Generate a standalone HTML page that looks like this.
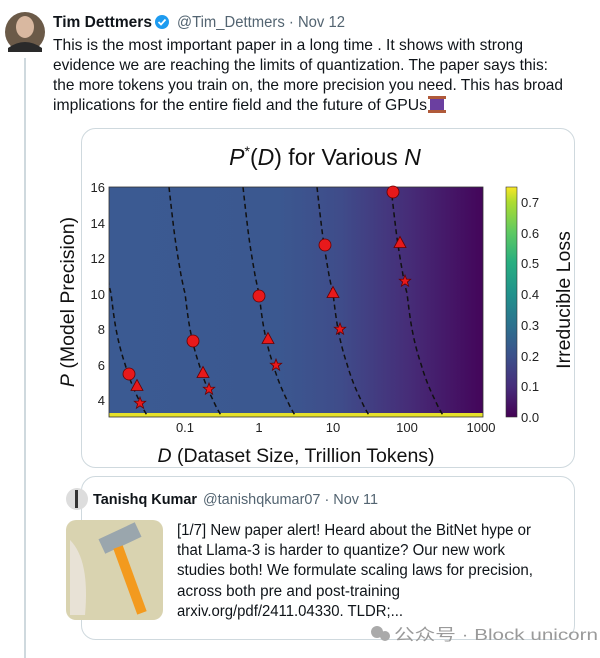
<!DOCTYPE html>
<html><head><meta charset="utf-8"><style>
html,body{margin:0;padding:0;background:#fff;width:600px;height:658px;overflow:hidden}
svg{display:block}
text{font-family:"Liberation Sans","DejaVu Sans",sans-serif}
</style></head><body>
<svg width="600" height="658" viewBox="0 0 600 658" xmlns="http://www.w3.org/2000/svg">
<defs>
<linearGradient id="bg" x1="109" y1="0" x2="483" y2="0" gradientUnits="userSpaceOnUse">
<stop offset="0" stop-color="#3b5a92"/>
<stop offset="0.45" stop-color="#3b5890"/>
<stop offset="0.62" stop-color="#3f4c8a"/>
<stop offset="0.8" stop-color="#462d78"/>
<stop offset="1" stop-color="#44055a"/>
</linearGradient>
<linearGradient id="cb" x1="0" y1="417" x2="0" y2="186" gradientUnits="userSpaceOnUse">
<stop offset="0" stop-color="#440154"/>
<stop offset="0.13" stop-color="#472d7b"/>
<stop offset="0.27" stop-color="#3b528b"/>
<stop offset="0.4" stop-color="#2c728e"/>
<stop offset="0.53" stop-color="#21918c"/>
<stop offset="0.67" stop-color="#28ae80"/>
<stop offset="0.8" stop-color="#5ec962"/>
<stop offset="0.93" stop-color="#addc30"/>
<stop offset="1" stop-color="#fde725"/>
</linearGradient>
<clipPath id="pc"><rect x="109" y="187" width="374" height="230"/></clipPath>
<path id="cv" d="M243,187 C245,205 246,214 247,222 C249,240 252,258 255,275 C257,285 258,290 259,293 C261,310 262,318 264,329 C267,345 270,355 273,364 C277,378 282,390 287,400 C290,407 293,412 296,417" fill="none" stroke="#111" stroke-width="1.5" stroke-dasharray="5,3.5"/>
<g id="star"><polygon points="0,-6 1.5,-1.9 5.7,-1.8 2.4,1 3.6,5.2 0,2.8 -3.6,5.2 -2.4,1 -5.7,-1.8 -1.5,-1.9" fill="#e8191b" stroke="#600" stroke-width="0.8"/></g>
<g id="tri"><polygon points="0,-6.5 6,4.5 -6,4.5" fill="#e8191b" stroke="#600" stroke-width="0.8"/></g>
<g id="cir"><circle r="6" fill="#e8191b" stroke="#600" stroke-width="0.8"/></g>
</defs>

<circle cx="25" cy="32" r="20" fill="#6b5a48"/>
<ellipse cx="25" cy="27" rx="9" ry="11" fill="#d9b8a0"/>
<path d="M8,48 Q25,36 42,48 L42,52 L8,52Z" fill="#2a2a2a"/>
<rect x="24" y="58" width="2" height="600" fill="#cfd9de"/>
<text x="53" y="27" font-size="15.5" font-weight="bold" fill="#0f1419" textLength="99" lengthAdjust="spacingAndGlyphs">Tim Dettmers</text>
<circle cx="162" cy="22" r="7" fill="#1d9bf0"/>
<path d="M158.5,22 l2.5,2.5 l4.5,-5" stroke="#fff" stroke-width="1.8" fill="none"/>
<text x="177" y="27" font-size="15.5" fill="#536471" textLength="168" lengthAdjust="spacingAndGlyphs">@Tim_Dettmers · Nov 12</text>
<g font-size="16" fill="#0f1419">
<text x="53" y="50" textLength="470" lengthAdjust="spacingAndGlyphs">This is the most important paper in a long time . It shows with strong</text>
<text x="53" y="70" textLength="495" lengthAdjust="spacingAndGlyphs">evidence we are reaching the limits of quantization. The paper says this:</text>
<text x="53" y="90" textLength="510" lengthAdjust="spacingAndGlyphs">the more tokens you train on, the more precision you need. This has broad</text>
<text x="53" y="110" textLength="374" lengthAdjust="spacingAndGlyphs">implications for the entire field and the future of GPUs</text>
</g>
<rect x="430" y="97" width="14" height="15" fill="#6b3fa0"/>
<rect x="428" y="96" width="18" height="3" fill="#b05a3a"/><rect x="428" y="110" width="18" height="3" fill="#b05a3a"/>

<rect x="81.5" y="128.5" width="493" height="339" rx="14" fill="#fff" stroke="#cfd9de"/>
<text x="325" y="165" font-size="23" text-anchor="middle" fill="#111"><tspan font-style="italic">P</tspan><tspan font-size="14" dy="-9">*</tspan><tspan dy="9">(</tspan><tspan font-style="italic">D</tspan>) for Various <tspan font-style="italic">N</tspan></text>
<rect x="109" y="187" width="374" height="230" fill="url(#bg)"/>
<rect x="109" y="413" width="374" height="4" fill="#e6e12a"/>
<g clip-path="url(#pc)">
<use href="#cv" transform="translate(-148,0)"/>
<use href="#cv" transform="translate(-74,0)"/>
<use href="#cv"/>
<use href="#cv" transform="translate(74,0)"/>
<use href="#cv" transform="translate(148,0)"/>
</g>
<rect x="109" y="187" width="374" height="230" fill="none" stroke="#333" stroke-width="0.8"/>
<use href="#cir" x="129" y="374"/><use href="#tri" x="137" y="386"/><use href="#star" x="140" y="403"/>
<use href="#cir" x="193" y="341"/><use href="#tri" x="203" y="373"/><use href="#star" x="209" y="389"/>
<use href="#cir" x="259" y="296"/><use href="#tri" x="268" y="339"/><use href="#star" x="276" y="365"/>
<use href="#cir" x="325" y="245"/><use href="#tri" x="333" y="293"/><use href="#star" x="340" y="329"/>
<use href="#cir" x="393" y="192"/><use href="#tri" x="400" y="243"/><use href="#star" x="405" y="281"/>
<g font-size="13" fill="#222" text-anchor="end">
<text x="105" y="192">16</text><text x="105" y="228">14</text><text x="105" y="263">12</text>
<text x="105" y="299">10</text><text x="105" y="334">8</text><text x="105" y="370">6</text><text x="105" y="405">4</text>
</g>
<g font-size="13" fill="#222" text-anchor="middle">
<text x="185" y="432">0.1</text><text x="259" y="432">1</text><text x="333" y="432">10</text>
<text x="407" y="432">100</text><text x="481" y="432">1000</text>
</g>
<text x="0" y="0" font-size="19.5" fill="#111" text-anchor="middle" transform="translate(74,302) rotate(-90)"><tspan font-style="italic">P</tspan> (Model Precision)</text>
<text x="296" y="462" font-size="19.5" fill="#111" text-anchor="middle"><tspan font-style="italic">D</tspan> (Dataset Size, Trillion Tokens)</text>
<rect x="506" y="187" width="11" height="230" fill="url(#cb)" stroke="#333" stroke-width="0.6"/>
<g font-size="13" fill="#222">
<text x="521" y="422">0.0</text><text x="521" y="391">0.1</text><text x="521" y="361">0.2</text>
<text x="521" y="330">0.3</text><text x="521" y="299">0.4</text><text x="521" y="268">0.5</text>
<text x="521" y="238">0.6</text><text x="521" y="207">0.7</text>
</g>
<text x="0" y="0" font-size="19.5" fill="#111" text-anchor="middle" transform="translate(570,300) rotate(-90)">Irreducible Loss</text>

<rect x="81.5" y="476.5" width="493" height="163" rx="14" fill="#fff" stroke="#cfd9de"/>
<circle cx="77" cy="499" r="11" fill="#ddd"/>
<rect x="75" y="490" width="3" height="18" fill="#333"/>
<text x="93" y="504" font-size="15" font-weight="bold" fill="#0f1419" textLength="104" lengthAdjust="spacingAndGlyphs">Tanishq Kumar</text>
<text x="203" y="504" font-size="15" fill="#536471" textLength="175" lengthAdjust="spacingAndGlyphs">@tanishqkumar07 · Nov 11</text>
<rect x="66" y="520" width="97" height="100" rx="10" fill="#d9d3b0"/>
<path d="M70,540 Q90,560 85,615 L70,615Z" fill="#e8e2d6"/>
<rect x="100" y="530" width="40" height="16" fill="#9aa6ad" transform="rotate(-25 120 538)"/>
<rect x="125" y="545" width="10" height="70" fill="#f39a1e" transform="rotate(-20 130 580)"/>
<g font-size="15.5" fill="#0f1419">
<text x="177" y="535" textLength="354" lengthAdjust="spacingAndGlyphs">[1/7] New paper alert! Heard about the BitNet hype or</text>
<text x="177" y="555" textLength="328" lengthAdjust="spacingAndGlyphs">that Llama-3 is harder to quantize? Our new work</text>
<text x="177" y="575" textLength="356" lengthAdjust="spacingAndGlyphs">studies both! We formulate scaling laws for precision,</text>
<text x="177" y="596" textLength="223" lengthAdjust="spacingAndGlyphs">across both pre and post-training</text>
<text x="177" y="616" textLength="226" lengthAdjust="spacingAndGlyphs">arxiv.org/pdf/2411.04330. TLDR;...</text>
</g>
<circle cx="377" cy="632" r="6" fill="#aaa"/><circle cx="385" cy="636" r="5" fill="#aaa"/>
<text x="394" y="640" font-size="16" fill="#9a9a9a" font-family="Liberation Sans,Noto Sans CJK SC,sans-serif" textLength="204" lengthAdjust="spacingAndGlyphs">公众号 · Block unicorn</text>
</svg>
</body></html>
